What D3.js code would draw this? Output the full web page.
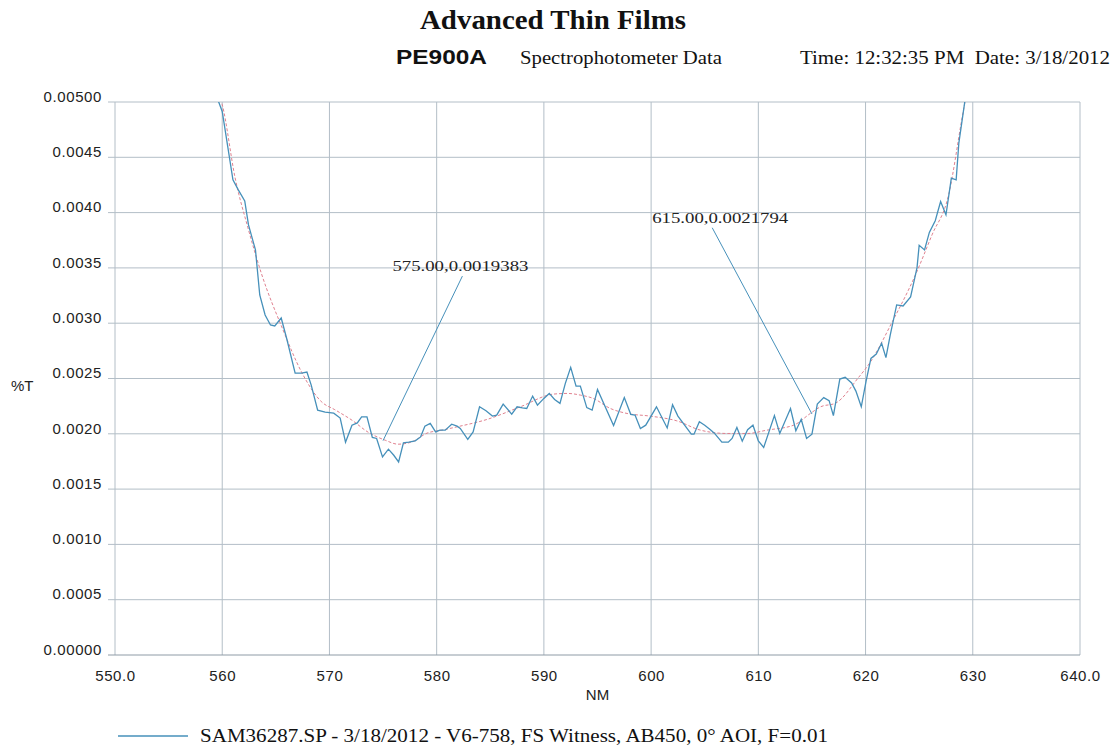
<!DOCTYPE html>
<html>
<head>
<meta charset="utf-8">
<script src="https://cdn.jsdelivr.net/npm/d3@7"></script>
<style>
  body { margin: 0; background: #fff; }
  .tick text { font-family: "Liberation Sans", Arial, sans-serif; font-size: 15px; fill: #222; letter-spacing: 0.6px; }
  .serif { font-family: "Liberation Serif", "Times New Roman", serif; }
</style>
</head>
<body>
<div id="vis"></div>
<script>
// measured %T (blue trace)
const nm = [559.4, 560.0, 561.0, 561.5, 562.1, 562.45, 563.1, 563.5, 564.0, 564.5, 564.9, 565.5, 566.0, 566.8, 567.4, 567.9, 568.3, 568.9, 569.6, 570.4,
  571.0, 571.5, 572.1, 572.6, 573.0, 573.5, 574.0, 574.4, 574.95, 575.5, 576.0, 576.45, 576.9, 577.4, 578.0, 578.5, 578.9, 579.4, 579.9, 580.3,
  580.8, 581.4, 581.9, 582.2, 582.9, 583.4, 584.0, 584.6, 585.2, 585.6, 586.2, 587.0, 587.5, 588.0, 588.4, 588.95, 589.4, 590.0, 590.5, 591.0,
  591.5, 592.0, 592.5, 593.0, 593.4, 594.0, 594.5, 595.0, 596.5, 597.5, 598.1, 598.5, 599.0, 599.5, 600.5, 601.5, 602.0, 602.5, 603.75, 604.0,
  604.5, 605.0, 605.5, 605.9, 606.6, 607.2, 607.55, 608.0, 608.5, 609.0, 609.5, 610.0, 610.5, 611.5, 612.0, 613.0, 613.5, 614.0, 614.5, 615.0,
  615.5, 616.1, 616.6, 617.0, 617.6, 618.1, 618.7, 619.1, 619.6, 620.05, 620.5, 621.0, 621.5, 621.9, 622.3, 622.9, 623.5, 624.2, 624.8, 625.0,
  625.5, 625.95, 626.5, 627.0, 627.5, 628.0, 628.45, 628.7, 629.25, 629.4];
const pctT = [0.00507, 0.004915, 0.004297, 0.004206, 0.004106, 0.003889, 0.003663, 0.003255, 0.003074, 0.002984, 0.002975, 0.003047, 0.002866, 0.002549, 0.002549, 0.002558, 0.002440, 0.002214, 0.002196, 0.002187,
  0.002142, 0.001924, 0.002078, 0.002099, 0.002153, 0.002153, 0.001967, 0.001958, 0.001791, 0.001861, 0.001806, 0.001746, 0.001918, 0.001924, 0.001936, 0.001972, 0.002069, 0.002094, 0.002017, 0.002033,
  0.002033, 0.002087, 0.002069, 0.002048, 0.001949, 0.002017, 0.002244, 0.002208, 0.002160, 0.002169, 0.002268, 0.002178, 0.002244, 0.002235, 0.002229, 0.002341, 0.002259, 0.002320, 0.002365, 0.002311,
  0.002275, 0.002456, 0.002601, 0.002431, 0.002431, 0.002237, 0.002214, 0.002400, 0.002075, 0.002327, 0.002176, 0.002169, 0.002048, 0.002078, 0.002244, 0.002053, 0.002262, 0.002160, 0.001997, 0.001997,
  0.002110, 0.002078, 0.002039, 0.002006, 0.001924, 0.001924, 0.001958, 0.002057, 0.001933, 0.002037, 0.002078, 0.001936, 0.001876, 0.002164, 0.002003, 0.002229, 0.002028, 0.002131, 0.001958, 0.001997,
  0.002268, 0.002327, 0.002300, 0.002164, 0.002495, 0.002511, 0.002460, 0.002386, 0.002244, 0.002477, 0.002682, 0.002721, 0.002818, 0.002689, 0.002893, 0.003165, 0.003156, 0.003237, 0.003502, 0.003704,
  0.003663, 0.003821, 0.003927, 0.004100, 0.003980, 0.004312, 0.004297, 0.004629, 0.004998, 0.00507];

// smoothed fit (red dashed)
const fitNm = [559.7, 560.0, 561.2, 562.4, 563.7, 565.6, 567.4, 569.3, 570.5, 572.1, 573.6, 575.2, 576.4, 577.7, 579.1, 580.5, 581.9, 584.7, 587.8, 590.9,
  592.2, 593.4, 594.6, 596.2, 597.75, 599.9, 602.4, 604.6, 607.1, 609.0, 610.8, 613.3, 614.85, 615.8, 617.2, 619.3, 620.45, 622.5, 624.65, 626.2,
  627.75, 629.0, 629.4];
const fitT = [0.00507, 0.004976, 0.004315, 0.003862, 0.003436, 0.002956, 0.002558, 0.002286, 0.002218, 0.002123, 0.002015, 0.001942, 0.001906, 0.001927, 0.002006, 0.002033, 0.002063, 0.002130, 0.002244, 0.002359,
  0.002365, 0.002350, 0.002320, 0.002229, 0.002184, 0.002160, 0.002117, 0.002033, 0.002003, 0.002003, 0.002033, 0.002078, 0.002184, 0.002244, 0.002277, 0.002504, 0.002649, 0.003014, 0.003436, 0.003799,
  0.004161, 0.004855, 0.00507];

const xTicks = [550, 560, 570, 580, 590, 600, 610, 620, 630, 640];
const xTickLabels = ['550.0', '560', '570', '580', '590', '600', '610', '620', '630', '640.0'];
const yTicks = [0, 0.0005, 0.001, 0.0015, 0.002, 0.0025, 0.003, 0.0035, 0.004, 0.0045, 0.005];
const yTickLabels = ['0.00000', '0.0005', '0.0010', '0.0015', '0.0020', '0.0025', '0.0030', '0.0035', '0.0040', '0.0045', '0.00500'];

// cursor annotations: point, then where the label leader ends
const notes = [
  {x: 575, y: 0.0019383, lx: 582.4, ly: 0.003426, text: '575.00,0.0019383'},
  {x: 615, y: 0.0021794, lx: 605.7, ly: 0.003863, text: '615.00,0.0021794'}
];

const W = 1113, H = 749;
const margin = {top: 102, right: 33, bottom: 94, left: 115};
const width = W - margin.left - margin.right;
const height = H - margin.top - margin.bottom;

const root = d3.select('#vis').append('svg')
  .attr('width', W).attr('height', H);

const svg = root.append('g')
  .attr('transform', `translate(${margin.left},${margin.top})`);

const xScale = d3.scaleLinear().domain([550, 640]).range([0, width]);
const yScale = d3.scaleLinear().domain([0, 0.005]).range([height, 0]);

// grid
svg.append('g').selectAll('line.v').data(xTicks).join('line')
  .attr('x1', d => xScale(d)).attr('x2', d => xScale(d))
  .attr('y1', 0).attr('y2', height)
  .attr('stroke', '#b3bec7').attr('stroke-width', 1);
svg.append('g').selectAll('line.h').data(yTicks).join('line')
  .attr('x1', -7).attr('x2', width)
  .attr('y1', d => yScale(d)).attr('y2', d => yScale(d))
  .attr('stroke', d => d === 0 ? '#8e9ba6' : '#b3bec7').attr('stroke-width', 1);

// axes (labels only)
const xAxis = d3.axisBottom(xScale).tickValues(xTicks)
  .tickFormat((d, i) => xTickLabels[i]).tickSize(0).tickPadding(15);
svg.append('g').attr('transform', `translate(0,${height})`).call(xAxis)
  .call(g => g.select('.domain').remove());

const yAxis = d3.axisLeft(yScale).tickValues(yTicks)
  .tickFormat((d, i) => yTickLabels[i]).tickSize(0).tickPadding(13);
svg.append('g').call(yAxis)
  .call(g => g.select('.domain').remove())
  .selectAll('text').attr('dy', '-0.05em');

svg.append('text')
  .attr('x', xScale(595)).attr('y', height + 45)
  .attr('text-anchor', 'middle')
  .style('font-family', '"Liberation Sans", Arial, sans-serif').style('font-size', '15px').style('fill', '#222')
  .text('NM');

root.append('text')
  .attr('x', 11).attr('y', 391)
  .style('font-family', '"Liberation Sans", Arial, sans-serif').style('font-size', '15px').style('fill', '#222')
  .text('%T');

// clip to plot
svg.append('clipPath').attr('id', 'clip')
  .append('rect').attr('width', width).attr('height', height);

svg.append('path')
  .datum(fitNm.map((d, i) => [d, fitT[i]]))
  .attr('clip-path', 'url(#clip)')
  .attr('d', d3.line().x(d => xScale(d[0])).y(d => yScale(d[1])).curve(d3.curveMonotoneX))
  .attr('fill', 'none').attr('stroke', '#e0818f')
  .attr('stroke-width', 1).attr('stroke-dasharray', '3,2');

svg.append('path')
  .datum(nm.map((d, i) => [d, pctT[i]]))
  .attr('clip-path', 'url(#clip)')
  .attr('d', d3.line().x(d => xScale(d[0])).y(d => yScale(d[1])))
  .attr('fill', 'none').attr('stroke', '#4690ba').attr('stroke-width', 1.3);

// annotations
svg.selectAll('.note-line').data(notes).join('line')
  .attr('class', 'note-line')
  .attr('x1', d => xScale(d.x)).attr('y1', d => yScale(d.y))
  .attr('x2', d => xScale(d.lx)).attr('y2', d => yScale(d.ly))
  .attr('stroke', '#4690ba').attr('stroke-width', 1);
svg.selectAll('.note-text').data(notes).join('text')
  .attr('class', 'note-text serif')
  .attr('x', (d, i) => xScale(d.lx) + (i === 0 ? -2 : 8)).attr('y', d => yScale(d.ly) - 5)
  .attr('text-anchor', 'middle')
  .attr('textLength', 136).attr('lengthAdjust', 'spacingAndGlyphs')
  .style('font-size', '15px').style('fill', '#222')
  .text(d => d.text);

// header
root.append('text').attr('class', 'serif')
  .attr('x', 420).attr('y', 29)
  .attr('textLength', 266).attr('lengthAdjust', 'spacingAndGlyphs')
  .style('font-size', '27px').style('font-weight', 'bold').style('fill', '#111')
  .text('Advanced Thin Films');
root.append('text')
  .attr('x', 396).attr('y', 64)
  .attr('textLength', 91).attr('lengthAdjust', 'spacingAndGlyphs')
  .style('font-family', '"Liberation Sans", Arial, sans-serif')
  .style('font-size', '21px').style('font-weight', 'bold').style('fill', '#111')
  .text('PE900A');
root.append('text').attr('class', 'serif')
  .attr('x', 520).attr('y', 64)
  .attr('textLength', 202).attr('lengthAdjust', 'spacingAndGlyphs')
  .style('font-size', '18px').style('fill', '#111')
  .text('Spectrophotometer Data');
root.append('text').attr('class', 'serif')
  .attr('x', 800).attr('y', 64)
  .attr('textLength', 310).attr('lengthAdjust', 'spacingAndGlyphs')
  .style('font-size', '18px').style('fill', '#111')
  .attr('xml:space', 'preserve')
  .text('Time: 12:32:35 PM  Date: 3/18/2012');

// legend
root.append('line')
  .attr('x1', 118).attr('x2', 188).attr('y1', 736).attr('y2', 736)
  .attr('stroke', '#4690ba').attr('stroke-width', 1.3);
root.append('text').attr('class', 'serif')
  .attr('x', 200).attr('y', 742)
  .attr('textLength', 628).attr('lengthAdjust', 'spacingAndGlyphs')
  .style('font-size', '18px').style('fill', '#111')
  .text('SAM36287.SP - 3/18/2012 - V6-758, FS Witness, AB450, 0° AOI, F=0.01');
</script>
</body>
</html>
